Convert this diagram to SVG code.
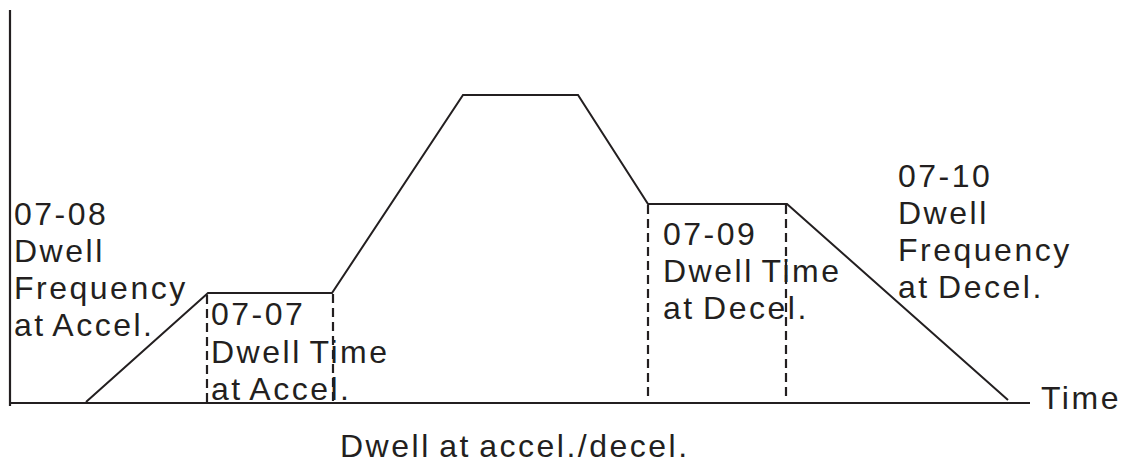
<svg xmlns="http://www.w3.org/2000/svg" width="1124" height="462" viewBox="0 0 1124 462">
<style>
.t{font-family:"Liberation Sans",Arial,sans-serif;font-size:32px;letter-spacing:2.5px;word-spacing:-3px;fill:#231f20}
.ln{fill:none;stroke:#231f20;stroke-width:2}
.ax{fill:none;stroke:#231f20;stroke-width:2.2}
.ds{fill:none;stroke:#231f20;stroke-width:2.2;stroke-dasharray:9 5}
</style>
<rect width="1124" height="462" fill="#fff"/>
<g id="connectors">
<line class="ax" x1="10" y1="10" x2="10" y2="406"/>
<line class="ax" x1="10" y1="403" x2="1030" y2="403"/>
<polyline class="ln" points="86,402 208,293 332,293 463,95 578,95 648,204 787,204 1008,400"/>
<line class="ds" x1="207" y1="295" x2="207" y2="403"/>
<line class="ds" x1="333" y1="294" x2="333" y2="403"/>
<line class="ds" x1="648" y1="205" x2="648" y2="398"/>
<line class="ds" x1="786" y1="205" x2="786" y2="400"/>
</g>
<g id="label-0708">
<text class="t" x="14" y="225">07-08</text>
<text class="t" x="14" y="262">Dwell</text>
<text class="t" x="14" y="299">Frequency</text>
<text class="t" x="14" y="336">at Accel.</text>
</g>
<g id="label-0707">
<text class="t" x="211" y="325">07-07</text>
<text class="t" x="211" y="363">Dwell Time</text>
<text class="t" x="211" y="400">at Accel.</text>
</g>
<g id="label-0709">
<text class="t" x="663" y="245">07-09</text>
<text class="t" x="663" y="282">Dwell Time</text>
<text class="t" x="663" y="319">at Decel.</text>
</g>
<g id="label-0710">
<text class="t" x="898" y="187">07-10</text>
<text class="t" x="898" y="224">Dwell</text>
<text class="t" x="898" y="261">Frequency</text>
<text class="t" x="898" y="298">at Decel.</text>
</g>
<g id="label-time">
<text class="t" x="1041" y="409">Time</text>
</g>
<g id="caption">
<text class="t" x="340" y="457">Dwell at accel./decel.</text>
</g>
</svg>
